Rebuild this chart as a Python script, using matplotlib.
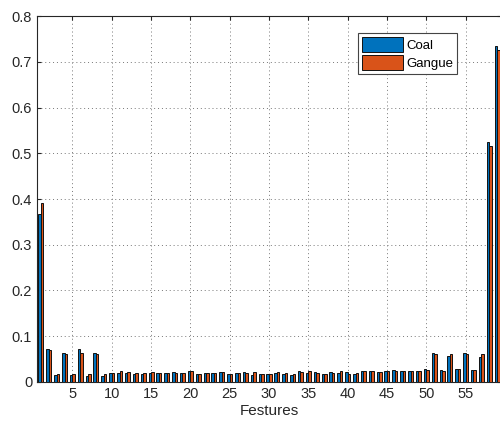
import numpy as np
import matplotlib
matplotlib.use('Agg')
import matplotlib.pyplot as plt

plt.rcParams['font.family'] = ['Liberation Sans', 'DejaVu Sans']

# feature importance per feature, coal vs gangue
features = np.arange(1, 60)
coal = [0.367, 0.071, 0.015, 0.063, 0.015, 0.073, 0.013, 0.063, 0.013, 0.020,
        0.020, 0.020, 0.018, 0.018, 0.020, 0.020, 0.020, 0.022, 0.019, 0.023,
        0.018, 0.020, 0.020, 0.022, 0.017, 0.019, 0.021, 0.016, 0.018, 0.018,
        0.020, 0.018, 0.016, 0.023, 0.020, 0.021, 0.017, 0.022, 0.020, 0.022,
        0.018, 0.023, 0.023, 0.022, 0.024, 0.026, 0.025, 0.023, 0.024, 0.028,
        0.063, 0.026, 0.057, 0.028, 0.063, 0.027, 0.055, 0.524, 0.734]
gangue = [0.391, 0.070, 0.018, 0.061, 0.018, 0.064, 0.018, 0.062, 0.017, 0.020,
          0.023, 0.021, 0.020, 0.020, 0.021, 0.020, 0.020, 0.020, 0.019, 0.023,
          0.018, 0.020, 0.020, 0.022, 0.018, 0.019, 0.020, 0.021, 0.018, 0.018,
          0.022, 0.020, 0.017, 0.022, 0.023, 0.020, 0.018, 0.020, 0.023, 0.018,
          0.019, 0.023, 0.023, 0.022, 0.024, 0.024, 0.023, 0.025, 0.023, 0.026,
          0.061, 0.023, 0.061, 0.028, 0.062, 0.026, 0.061, 0.517, 0.726]
series_names = ['Coal', 'Gangue']
xticks = np.arange(5, 60, 5)
yticks = np.round(np.arange(0, 0.81, 0.1), 1)

blue = '#0072BD'
orange = '#D95319'

fig = plt.figure(figsize=(5.0, 4.23), dpi=100)
ax = fig.add_axes([0.074, 0.097, 0.928, 0.865])

w = 0.32
ax.bar(features - w / 2, coal, width=w, color=blue, edgecolor='#111111',
       linewidth=0.7, label=series_names[0], zorder=3)
ax.bar(features + w / 2, gangue, width=w, color=orange, edgecolor='#111111',
       linewidth=0.7, label=series_names[1], zorder=3)

ax.set_xlim(0.5, 59.5)
ax.set_ylim(0, 0.8)
ax.set_xticks(xticks)
ax.set_yticks(yticks)
ax.set_yticklabels([('%g' % v) for v in yticks])
ax.tick_params(direction='in', length=3, labelsize=10.5, colors='#262626',
               top=True, right=True)
ax.grid(True, linestyle=(0, (1, 3)), color='#777777', linewidth=0.7, zorder=0)
for s in ax.spines.values():
    s.set_color('#262626')
    s.set_linewidth(0.8)

ax.set_xlabel('Festures', fontsize=11, color='#262626', labelpad=2)

leg = ax.legend(loc='upper right', bbox_to_anchor=(0.905, 0.954),
                fancybox=False, framealpha=1, edgecolor='#444444',
                fontsize=9.5, handlelength=3.1, handleheight=1.35,
                handletextpad=0.25, borderpad=0.3, labelspacing=0.25,
                borderaxespad=0)
leg.get_frame().set_linewidth(0.8)

fig.savefig('out.png', dpi=100)
